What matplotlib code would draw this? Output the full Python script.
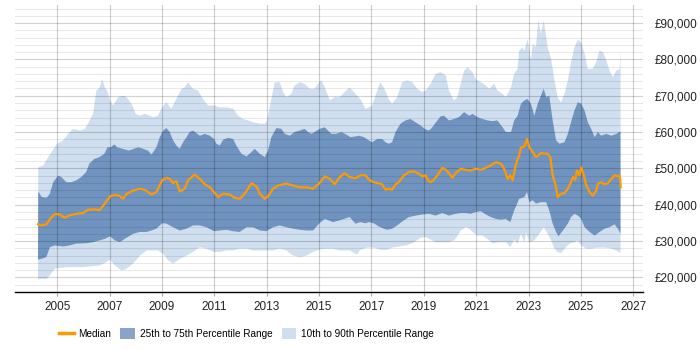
import numpy as np
import matplotlib
matplotlib.use('Agg')
import matplotlib.pyplot as plt
from matplotlib.patches import Patch
from matplotlib.lines import Line2D
from matplotlib.ticker import FuncFormatter, MultipleLocator

plt.rcParams['font.family'] = ['Liberation Sans', 'DejaVu Sans']

# 90th percentile (thousands)
p90_year = [2004.28, 2004.47, 2004.66, 2005.00, 2005.23, 2005.42, 2005.61, 2005.87, 2006.06, 2006.18,
            2006.37, 2006.50, 2006.63, 2006.72, 2006.82, 2006.91, 2007.02, 2007.14, 2007.33, 2007.52,
            2007.65, 2007.84, 2008.00, 2008.16, 2008.35, 2008.54, 2008.66, 2008.85, 2009.01, 2009.17,
            2009.36, 2009.55, 2009.75, 2009.87, 2010.00, 2010.19, 2010.38, 2010.57, 2010.76, 2010.99,
            2011.21, 2011.46, 2011.72, 2011.91, 2012.10, 2012.29, 2012.48, 2012.74, 2012.93, 2013.02,
            2013.14, 2013.31, 2013.50, 2013.63, 2013.75, 2013.94, 2014.07, 2014.26, 2014.45, 2014.64,
            2014.83, 2015.00, 2015.09, 2015.22, 2015.41, 2015.60, 2015.79, 2015.98, 2016.17, 2016.39,
            2016.58, 2016.77, 2016.90, 2017.03, 2017.15, 2017.34, 2017.47, 2017.66, 2017.79, 2017.98,
            2018.17, 2018.37, 2018.56, 2018.75, 2018.94, 2019.07, 2019.26, 2019.45, 2019.64, 2019.84,
            2019.96, 2020.15, 2020.28, 2020.41, 2020.54, 2020.67, 2020.86, 2020.98, 2021.18, 2021.37,
            2021.50, 2021.69, 2021.81, 2022.01, 2022.13, 2022.33, 2022.45, 2022.58, 2022.64, 2022.77,
            2022.84, 2022.96, 2023.09, 2023.16, 2023.28, 2023.37, 2023.47, 2023.58, 2023.73, 2023.86,
            2023.99, 2024.11, 2024.24, 2024.37, 2024.50, 2024.62, 2024.75, 2024.88, 2025.01, 2025.14,
            2025.26, 2025.45, 2025.58, 2025.71, 2025.84, 2025.97, 2026.09, 2026.22, 2026.35, 2026.48,
            2026.51]
p90 = [50.3, 50.8, 53.1, 56.8, 57.7, 59.5, 60.9, 60.4, 60.9, 62.3,
       65.0, 71.4, 72.3, 74.6, 72.3, 71.4, 68.7, 67.3, 69.6, 70.0,
       69.6, 67.8, 65.0, 64.5, 65.0, 64.5, 64.1, 64.5, 66.8, 68.2,
       66.4, 69.1, 71.9, 72.3, 73.7, 71.9, 71.4, 69.1, 67.3, 67.3,
       66.8, 66.8, 66.4, 64.5, 63.6, 63.2, 62.7, 62.3, 62.3, 63.2,
       67.8, 73.7, 73.7, 71.0, 69.6, 70.5, 72.8, 73.7, 73.3, 71.9,
       71.9, 73.7, 74.2, 72.3, 68.7, 69.6, 69.6, 71.0, 72.3, 70.5,
       69.1, 66.4, 66.8, 67.3, 70.0, 73.7, 72.3, 69.1, 67.8, 69.6,
       73.7, 74.2, 73.7, 71.9, 71.0, 71.4, 73.3, 76.0, 76.5, 75.6,
       71.4, 68.7, 69.6, 73.3, 76.9, 77.8, 76.5, 74.6, 73.7, 72.8,
       71.9, 73.3, 71.4, 70.5, 69.6, 72.3, 76.0, 77.4, 82.4, 83.3,
       82.4, 85.6, 79.7, 84.3, 83.3, 90.7, 87.0, 90.7, 83.3, 80.1,
       74.2, 69.6, 68.2, 70.5, 74.2, 79.2, 83.3, 85.4, 84.7, 81.5,
       77.4, 77.4, 79.2, 82.4, 82.0, 79.7, 76.9, 75.1, 76.9, 77.4,
       82.6]

# 75th percentile
p75_year = [2004.28, 2004.41, 2004.60, 2004.72, 2004.85, 2005.04, 2005.16, 2005.35, 2005.54, 2005.73,
            2005.92, 2006.11, 2006.23, 2006.42, 2006.61, 2006.80, 2006.92, 2007.05, 2007.18, 2007.30,
            2007.49, 2007.74, 2008.09, 2008.28, 2008.47, 2008.60, 2008.79, 2008.92, 2009.05, 2009.17,
            2009.30, 2009.43, 2009.55, 2009.68, 2009.81, 2009.94, 2010.06, 2010.19, 2010.32, 2010.45,
            2010.64, 2010.83, 2010.99, 2011.08, 2011.21, 2011.34, 2011.53, 2011.72, 2011.84, 2012.04,
            2012.23, 2012.42, 2012.54, 2012.74, 2012.93, 2013.05, 2013.18, 2013.37, 2013.56, 2013.69,
            2013.88, 2014.07, 2014.26, 2014.45, 2014.58, 2014.71, 2014.83, 2015.03, 2015.22, 2015.34,
            2015.47, 2015.66, 2015.85, 2016.04, 2016.20, 2016.39, 2016.52, 2016.71, 2016.90, 2017.03,
            2017.22, 2017.41, 2017.54, 2017.66, 2017.79, 2017.92, 2018.11, 2018.30, 2018.49, 2018.68,
            2018.88, 2019.03, 2019.20, 2019.32, 2019.52, 2019.64, 2019.77, 2019.96, 2020.15, 2020.34,
            2020.54, 2020.73, 2020.86, 2021.05, 2021.24, 2021.43, 2021.62, 2021.81, 2022.01, 2022.13,
            2022.33, 2022.45, 2022.58, 2022.71, 2022.84, 2022.96, 2023.09, 2023.22, 2023.35, 2023.47,
            2023.58, 2023.67, 2023.79, 2023.92, 2024.05, 2024.18, 2024.37, 2024.50, 2024.62, 2024.75,
            2024.88, 2025.01, 2025.14, 2025.26, 2025.39, 2025.52, 2025.65, 2025.77, 2025.97, 2026.16,
            2026.35, 2026.51]
p75 = [43.7, 42.1, 41.9, 43.0, 46.2, 48.0, 47.6, 46.2, 46.2, 46.7,
       47.6, 49.0, 51.3, 52.6, 53.1, 54.0, 55.8, 55.8, 56.6, 55.8,
       55.4, 54.9, 55.8, 55.4, 54.9, 53.8, 55.8, 58.6, 60.4, 61.1,
       60.0, 57.7, 56.3, 55.4, 57.2, 58.6, 60.0, 60.4, 59.7, 59.0,
       59.5, 59.0, 58.1, 56.8, 56.3, 57.9, 58.4, 58.1, 56.3, 54.0,
       53.3, 54.5, 55.4, 54.0, 53.1, 54.9, 58.6, 61.1, 60.9, 59.5,
       59.0, 60.0, 60.4, 60.9, 60.0, 59.5, 60.0, 60.9, 61.3, 60.4,
       59.5, 59.5, 60.0, 59.3, 58.6, 58.8, 59.0, 58.6, 57.7, 57.2,
       58.1, 58.1, 57.2, 56.8, 57.2, 60.0, 62.3, 63.2, 63.6, 62.7,
       61.8, 60.9, 60.4, 61.3, 63.2, 64.3, 64.5, 63.2, 63.6, 64.1,
       65.5, 64.5, 65.0, 64.1, 63.6, 63.2, 63.0, 63.2, 61.3, 60.0,
       60.0, 63.2, 64.5, 67.8, 68.7, 69.1, 67.8, 64.5, 67.8, 70.0,
       71.9, 69.6, 70.0, 63.2, 57.7, 56.8, 57.2, 59.5, 62.7, 65.9,
       68.2, 67.8, 65.9, 62.7, 60.9, 58.6, 60.0, 59.0, 59.5, 59.0,
       59.5, 60.2]

# median
med_year = [2004.27, 2004.40, 2004.59, 2004.72, 2004.91, 2005.10, 2005.29, 2005.48, 2005.74, 2005.99,
            2006.18, 2006.37, 2006.63, 2006.82, 2007.02, 2007.20, 2007.39, 2007.52, 2007.65, 2007.90,
            2008.16, 2008.35, 2008.60, 2008.79, 2009.01, 2009.17, 2009.30, 2009.43, 2009.55, 2009.68,
            2009.87, 2010.00, 2010.25, 2010.45, 2010.64, 2010.83, 2010.99, 2011.15, 2011.34, 2011.59,
            2011.78, 2011.97, 2012.16, 2012.42, 2012.61, 2012.74, 2012.93, 2013.05, 2013.24, 2013.44,
            2013.75, 2014.01, 2014.26, 2014.52, 2014.77, 2015.00, 2015.22, 2015.41, 2015.60, 2015.79,
            2015.98, 2016.17, 2016.39, 2016.58, 2016.77, 2016.90, 2017.09, 2017.28, 2017.41, 2017.54,
            2017.66, 2017.79, 2017.92, 2018.05, 2018.24, 2018.43, 2018.62, 2018.81, 2018.94, 2019.07,
            2019.16, 2019.26, 2019.39, 2019.52, 2019.71, 2019.84, 2019.96, 2020.09, 2020.22, 2020.41,
            2020.60, 2020.79, 2020.98, 2021.18, 2021.37, 2021.56, 2021.75, 2021.94, 2022.07, 2022.20,
            2022.30, 2022.39, 2022.48, 2022.56, 2022.64, 2022.71, 2022.84, 2022.94, 2023.03, 2023.16,
            2023.28, 2023.41, 2023.47, 2023.73, 2023.83, 2023.92, 2024.05, 2024.11, 2024.24, 2024.37,
            2024.50, 2024.62, 2024.69, 2024.78, 2024.85, 2024.94, 2025.01, 2025.11, 2025.20, 2025.33,
            2025.45, 2025.58, 2025.65, 2025.77, 2025.90, 2026.03, 2026.16, 2026.28, 2026.41, 2026.48,
            2026.52]
med = [34.6, 34.3, 34.6, 35.9, 37.5, 37.3, 36.4, 37.1, 37.5, 37.7,
       38.6, 38.7, 38.6, 40.3, 42.3, 42.7, 42.4, 41.6, 43.0, 43.9,
       44.4, 44.1, 42.8, 43.5, 46.7, 47.4, 47.1, 45.9, 46.5, 43.7,
       44.4, 46.7, 48.3, 47.1, 45.6, 44.8, 43.5, 42.1, 43.0, 42.8,
       41.9, 41.6, 43.0, 45.9, 45.0, 43.0, 41.6, 42.3, 44.4, 45.3,
       45.8, 45.3, 44.8, 44.8, 44.4, 45.8, 47.8, 47.1, 45.6, 47.6,
       48.7, 47.6, 47.3, 48.1, 48.1, 46.9, 46.2, 45.9, 45.6, 44.1,
       44.4, 44.1, 45.6, 46.2, 48.1, 49.0, 49.2, 48.5, 47.8, 48.1,
       46.7, 46.2, 46.9, 48.1, 50.2, 49.6, 48.7, 47.4, 48.7, 49.9,
       49.6, 49.4, 49.9, 49.6, 50.2, 50.8, 51.7, 51.3, 49.9, 47.1,
       48.1, 46.7, 49.9, 52.2, 53.5, 55.8, 56.0, 58.1, 55.8, 54.5,
       53.1, 53.8, 54.2, 54.0, 53.1, 48.1, 44.8, 42.1, 43.0, 43.2,
       44.4, 46.2, 47.6, 46.9, 49.4, 48.1, 50.3, 48.1, 45.3, 43.5,
       42.5, 43.9, 45.8, 46.2, 45.6, 45.9, 47.1, 48.1, 47.8, 48.1,
       44.8]

# 25th percentile
p25_year = [2004.27, 2004.40, 2004.59, 2004.72, 2004.91, 2005.23, 2005.48, 2005.74, 2006.12, 2006.37,
            2006.63, 2006.82, 2007.02, 2007.20, 2007.39, 2007.58, 2007.90, 2008.16, 2008.41, 2008.60,
            2008.79, 2009.01, 2009.17, 2009.43, 2009.68, 2009.94, 2010.19, 2010.45, 2010.70, 2010.99,
            2011.21, 2011.46, 2011.72, 2011.97, 2012.23, 2012.48, 2012.74, 2012.99, 2013.24, 2013.50,
            2013.75, 2014.01, 2014.26, 2014.52, 2014.77, 2015.00, 2015.22, 2015.53, 2015.79, 2016.17,
            2016.39, 2016.58, 2016.77, 2016.90, 2017.09, 2017.28, 2017.47, 2017.60, 2017.79, 2017.98,
            2018.24, 2018.43, 2018.69, 2018.94, 2019.20, 2019.45, 2019.71, 2019.96, 2020.22, 2020.41,
            2020.60, 2020.79, 2020.98, 2021.18, 2021.37, 2021.56, 2021.75, 2021.94, 2022.13, 2022.30,
            2022.45, 2022.64, 2022.84, 2022.94, 2023.03, 2023.16, 2023.28, 2023.47, 2023.67, 2023.79,
            2023.92, 2024.05, 2024.14, 2024.31, 2024.50, 2024.62, 2024.75, 2024.88, 2025.01, 2025.14,
            2025.33, 2025.52, 2025.71, 2025.90, 2026.09, 2026.28, 2026.41, 2026.51]
p25 = [24.9, 25.1, 25.6, 28.3, 28.8, 28.5, 28.8, 29.3, 29.4, 29.7,
       30.2, 30.6, 31.3, 30.2, 29.7, 30.6, 32.0, 32.5, 32.5, 32.9,
       33.4, 34.9, 34.8, 33.8, 32.9, 33.4, 34.3, 34.3, 33.8, 32.7,
       32.9, 33.1, 32.7, 32.5, 33.8, 33.8, 32.9, 32.7, 33.8, 34.3,
       33.8, 33.4, 33.1, 32.9, 32.9, 34.8, 36.1, 35.2, 35.7, 36.6,
       34.8, 35.2, 34.9, 35.2, 34.9, 34.0, 33.4, 33.1, 33.4, 34.3,
       35.7, 36.6, 37.0, 37.3, 37.5, 37.0, 37.7, 37.0, 37.5, 37.7,
       37.7, 37.5, 38.0, 38.2, 37.3, 36.6, 36.1, 35.9, 36.1, 35.2,
       38.4, 41.6, 42.1, 43.5, 40.7, 41.2, 40.3, 40.7, 40.7, 38.4,
       34.8, 32.5, 31.3, 32.9, 34.8, 36.6, 37.5, 37.0, 36.1, 33.8,
       32.5, 31.5, 32.5, 33.4, 33.8, 34.6, 33.4, 32.0]

# 10th percentile
p10_year = [2004.27, 2004.59, 2004.72, 2004.91, 2005.36, 2005.99, 2006.63, 2006.88, 2007.02, 2007.20,
            2007.46, 2007.65, 2007.90, 2008.16, 2008.41, 2008.66, 2008.85, 2009.05, 2009.24, 2009.43,
            2009.68, 2009.94, 2010.19, 2010.45, 2010.70, 2010.99, 2011.21, 2011.46, 2011.72, 2011.97,
            2012.23, 2012.48, 2012.74, 2012.99, 2013.24, 2013.50, 2013.75, 2014.01, 2014.26, 2014.52,
            2014.77, 2015.00, 2015.28, 2015.53, 2015.79, 2016.17, 2016.45, 2016.58, 2016.83, 2017.09,
            2017.34, 2017.60, 2017.79, 2018.05, 2018.30, 2018.56, 2018.88, 2019.07, 2019.26, 2019.45,
            2019.71, 2019.96, 2020.15, 2020.28, 2020.41, 2020.60, 2020.73, 2020.86, 2021.05, 2021.24,
            2021.43, 2021.62, 2021.88, 2022.13, 2022.30, 2022.45, 2022.58, 2022.71, 2022.84, 2022.90,
            2023.03, 2023.22, 2023.41, 2023.58, 2023.73, 2023.86, 2023.99, 2024.11, 2024.24, 2024.37,
            2024.56, 2024.75, 2024.88, 2025.01, 2025.20, 2025.39, 2025.65, 2025.90, 2026.16, 2026.35,
            2026.51]
p10 = [19.6, 19.6, 20.5, 22.4, 22.8, 22.8, 23.3, 24.2, 24.9, 23.3,
       21.9, 22.4, 23.8, 26.0, 27.4, 27.4, 27.4, 26.5, 24.7, 23.8,
       25.1, 26.0, 27.0, 28.3, 27.9, 27.0, 27.0, 27.4, 27.4, 27.9,
       27.9, 27.4, 27.4, 27.4, 27.4, 27.9, 27.4, 26.0, 25.6, 26.0,
       27.0, 27.6, 27.9, 27.9, 27.4, 27.4, 26.3, 27.6, 28.2, 28.2,
       27.6, 27.6, 28.2, 28.5, 28.8, 29.4, 30.9, 31.1, 30.4, 29.7,
       29.7, 29.7, 30.2, 31.3, 32.9, 33.8, 33.4, 32.5, 31.5, 31.5,
       30.6, 29.4, 29.7, 29.7, 28.3, 30.4, 29.3, 32.0, 29.7, 32.5,
       29.7, 30.2, 32.0, 33.8, 32.0, 30.2, 27.9, 27.0, 26.7, 27.9,
       29.3, 29.7, 30.2, 28.8, 27.9, 27.9, 28.2, 28.2, 27.9, 27.4,
       26.7]

light_col = '#cfdff0'
dark_col = '#7094bf'

fig = plt.figure(figsize=(7, 3.5), dpi=100)
ax = fig.add_axes([0.021, 0.166, 0.898, 0.82])

k = 1000.0
ax.fill(np.r_[p90_year, p10_year[::-1]], np.r_[p90, p10[::-1]] * k,
        color=light_col, lw=0, zorder=1)
ax.fill(np.r_[p75_year, p25_year[::-1]], np.r_[p75, p25[::-1]] * k,
        color=dark_col, lw=0, zorder=2)
ax.plot(med_year, np.array(med) * k, color='#ff9900', lw=1.6, zorder=4)

ax.set_xlim(2003.38, 2027.38)
ax.set_ylim(16000, 95000)

ax.yaxis.tick_right()
ax.yaxis.set_major_locator(MultipleLocator(10000))
ax.yaxis.set_minor_locator(MultipleLocator(2000))
ax.yaxis.set_major_formatter(FuncFormatter(lambda v, p: '£{:,.0f}'.format(v)))
ax.set_xticks(range(2005, 2028, 2))

ax.grid(axis='y', which='minor', color='black', alpha=0.09, lw=0.8, zorder=3)
ax.grid(axis='y', which='major', color='black', alpha=0.18, lw=0.8, zorder=3)
ax.grid(axis='x', which='major', color='black', alpha=0.2, lw=0.8, zorder=3)
ax.set_axisbelow(False)

for s in ['top', 'right', 'left']:
    ax.spines[s].set_visible(False)
ax.spines['bottom'].set_color('black')
ax.spines['bottom'].set_linewidth(1)
ax.spines['bottom'].set_zorder(5)

ax.tick_params(axis='y', which='both', length=0, pad=8, labelsize=8.5, labelcolor='#222222')
ax.tick_params(axis='x', length=3, color='#aaaaaa', labelsize=8.5, labelcolor='#222222')

handles = [Line2D([], [], color='#ff9900', lw=2.5),
           Patch(facecolor='#88a4c6', edgecolor='none'),
           Patch(facecolor=light_col, edgecolor='none')]
labels = ['Median', '25th to 75th Percentile Range', '10th to 90th Percentile Range']
fig.legend(handles, labels, loc='center', bbox_to_anchor=(0.352, 0.046), ncol=3,
           frameon=False, fontsize=7.2, handlelength=1.45, handleheight=1.3,
           columnspacing=0.9, handletextpad=0.5)

fig.savefig('out.png', dpi=100)
